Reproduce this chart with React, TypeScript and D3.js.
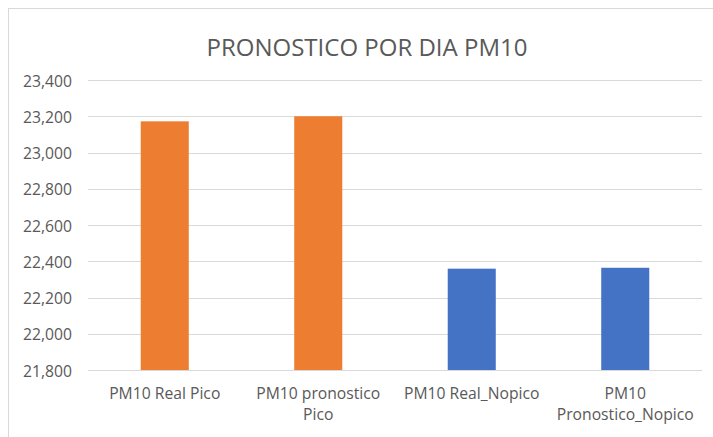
import React, { useRef, useEffect } from 'react';
import * as d3 from 'd3';

const categories = [
  ['PM10 Real Pico'],
  ['PM10 pronostico', 'Pico'],
  ['PM10 Real_Nopico'],
  ['PM10', 'Pronostico_Nopico'],
];
const values = [23172, 23200, 22359, 22364];
const barColors = ['#ED7D31', '#ED7D31', '#4472C4', '#4472C4'];
const yTicks = [21800, 22000, 22200, 22400, 22600, 22800, 23000, 23200, 23400];
const title = 'PRONOSTICO POR DIA PM10';

const W = 713;
const H = 437;
const FONT = '"Open Sans", sans-serif';

export default function App() {
  const svgRef = useRef<SVGSVGElement>(null);

  useEffect(() => {
    const svg = d3.select(svgRef.current);
    svg.selectAll('*').remove();

    const plot = { left: 88, right: 702, top: 80, bottom: 370 };

    // chart area frame
    svg.append('rect')
      .attr('x', 8.5).attr('y', 8.5)
      .attr('width', W + 10).attr('height', H + 10)
      .attr('fill', '#fff').attr('stroke', '#d9d9d9').attr('stroke-width', 1);

    svg.append('text')
      .attr('x', 367).attr('y', 56)
      .attr('text-anchor', 'middle')
      .attr('font-family', FONT).attr('font-size', 24)
      .attr('fill', '#595959')
      .text(title);

    const y = d3.scaleLinear().domain([21800, 23400]).range([plot.bottom, plot.top]);
    const x = d3.scaleBand<number>()
      .domain(d3.range(categories.length))
      .range([plot.left, plot.right])
      .paddingInner(0.687).paddingOuter(0.3435);

    const fmt = d3.format(',');

    svg.append('g').selectAll('line')
      .data(yTicks)
      .enter().append('line')
      .attr('x1', plot.left).attr('x2', plot.right)
      .attr('y1', d => Math.round(y(d)) + 0.5).attr('y2', d => Math.round(y(d)) + 0.5)
      .attr('stroke', '#d9d9d9').attr('stroke-width', 1);

    svg.append('g').selectAll('text')
      .data(yTicks)
      .enter().append('text')
      .attr('x', 72).attr('y', d => y(d) + 6.5)
      .attr('text-anchor', 'end')
      .attr('font-family', FONT).attr('font-size', 15.7)
      .attr('fill', '#595959')
      .text(d => fmt(d));

    svg.append('g').selectAll('rect')
      .data(values)
      .enter().append('rect')
      .attr('x', (_, i) => x(i) as number)
      .attr('width', x.bandwidth())
      .attr('y', d => y(d))
      .attr('height', d => plot.bottom - y(d))
      .attr('fill', (_, i) => barColors[i]);

    const labels = svg.append('g').selectAll('text')
      .data(categories)
      .enter().append('text')
      .attr('x', (_, i) => (x(i) as number) + x.bandwidth() / 2)
      .attr('y', 398.5)
      .attr('text-anchor', 'middle')
      .attr('font-family', FONT).attr('font-size', 15.7)
      .attr('fill', '#595959');
    labels.selectAll('tspan')
      .data(d => d)
      .enter().append('tspan')
      .attr('x', function () { return (this as any).parentNode.getAttribute('x'); })
      .attr('dy', (_, j) => (j === 0 ? 0 : 21.7))
      .text(d => d);
  }, []);

  return (
    <svg ref={svgRef} width={W} height={H}
      style={{ position: 'absolute', left: 0, top: 0, background: '#fff' }} />
  );
}
